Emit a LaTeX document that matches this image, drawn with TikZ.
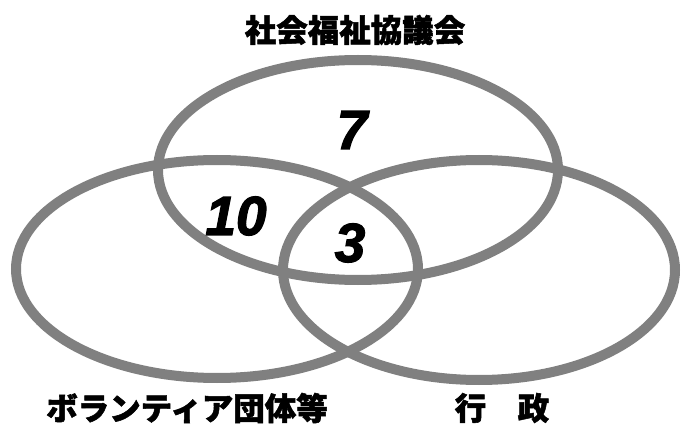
\documentclass[tikz,border=0pt]{standalone}
\usepackage{fontspec}
\newfontfamily\cjk{Noto Sans CJK JP}[BoldFeatures={FakeBold=1.6}]
\newfontfamily\numfont{Liberation Sans}[BoldItalicFeatures={FakeBold=2.2}]
\definecolor{ringgray}{RGB}{128,128,128}
\tikzset{
  ring/.style={draw=ringgray, line width=10pt},
  grouplabel/.style={font=\cjk\bfseries\fontsize{31.5}{33}\selectfont, inner sep=0pt, anchor=center},
  count/.style={font=\numfont\bfseries\itshape\fontsize{55}{57}\selectfont, inner sep=0pt, anchor=center}
}
\begin{document}
\begin{tikzpicture}[x=1pt,y=-1pt]
\useasboundingbox (0,0) rectangle (681,425);
\fill[white] (0,0) rectangle (681,425);
% circles
\draw[ring] (358,170) ellipse [x radius=200, y radius=110];
\draw[ring] (217,269) ellipse [x radius=201, y radius=109];
\draw[ring] (479,270) ellipse [x radius=196, y radius=110];
% labels
\node[grouplabel] (shakyo) at (355,30) {社会福祉協議会};
\node[grouplabel] (vol) at (187,408) {ボランティア団体等};
\node[grouplabel] (gyosei) at (502,408) {行　政};
% counts
\node[count] (n7) at (352,130) {7};
\node[count] (n10) at (236,216) {10};
\node[count] (n3) at (350,243) {3};
\end{tikzpicture}
\end{document}
